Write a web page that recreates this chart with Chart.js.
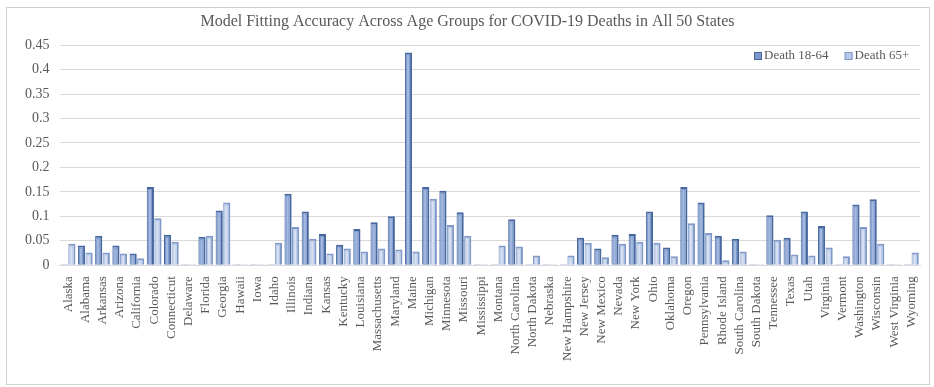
<!DOCTYPE html>
<html>
<head>
<meta charset="utf-8">
<script src="https://cdn.jsdelivr.net/npm/chart.js@4.4.0/dist/chart.umd.min.js"></script>
<style>
html, body { margin: 0; padding: 0; background: #fff; }
#wrap { position: relative; width: 934px; height: 387px; }
</style>
</head>
<body>
<div id="wrap"><canvas id="accuracyChart"></canvas></div>
<script>
const states = ["Alaska", "Alabama", "Arkansas", "Arizona", "California", "Colorado", "Connecticut", "Delaware", "Florida", "Georgia",
    "Hawaii", "Iowa", "Idaho", "Illinois", "Indiana", "Kansas", "Kentucky", "Louisiana", "Massachusetts", "Maryland",
    "Maine", "Michigan", "Minnesota", "Missouri", "Mississippi", "Montana", "North Carolina", "North Dakota", "Nebraska", "New Hampshire",
    "New Jersey", "New Mexico", "Nevada", "New York", "Ohio", "Oklahoma", "Oregon", "Pennsylvania", "Rhode Island", "South Carolina",
    "South Dakota", "Tennessee", "Texas", "Utah", "Virginia", "Vermont", "Washington", "Wisconsin", "West Virginia", "Wyoming"];

const death1864 = [0.002, 0.040, 0.060, 0.040, 0.024, 0.160, 0.062, 0.002, 0.058, 0.112,
    0.002, 0.002, 0.002, 0.146, 0.110, 0.064, 0.042, 0.074, 0.088, 0.100,
    0.435, 0.160, 0.152, 0.108, 0.002, 0.002, 0.094, 0.002, 0.002, 0.002,
    0.056, 0.034, 0.062, 0.064, 0.110, 0.036, 0.160, 0.128, 0.060, 0.054,
    0.002, 0.102, 0.056, 0.110, 0.080, 0.002, 0.124, 0.135, 0.002, 0.002];

const death65 = [0.044, 0.026, 0.026, 0.024, 0.014, 0.096, 0.048, 0.002, 0.060, 0.128,
    0.002, 0.002, 0.046, 0.078, 0.054, 0.024, 0.034, 0.028, 0.034, 0.032,
    0.028, 0.136, 0.082, 0.060, 0.002, 0.040, 0.038, 0.020, 0.002, 0.020,
    0.046, 0.016, 0.044, 0.048, 0.046, 0.018, 0.086, 0.066, 0.010, 0.028,
    0.002, 0.052, 0.022, 0.020, 0.036, 0.018, 0.078, 0.044, 0.002, 0.026];

const seriesNames = ["Death 18-64", "Death 65+"];

const textColor = "#595959";
const serif = "'Liberation Serif', 'Times New Roman', serif";
const fills = ["#7b97ca", "#b7c8e6"];
const edges = ["#46679f", "#8099c9"];
const shines = ["#a3b9df", "#d6e0f2"];

// white background + thin frame like the office chart box
const framePlugin = {
    id: "frame",
    beforeDraw(chart) {
        const c = chart.ctx;
        c.save();
        c.fillStyle = "#fff";
        c.fillRect(0, 0, chart.width, chart.height);
        c.strokeStyle = "#d0d0d0";
        c.lineWidth = 1;
        c.strokeRect(6.5, 7.5, 923, 377);
        c.restore();
    }
};

// fake the 3d column look: light stripe on the front face
const shinePlugin = {
    id: "shine",
    afterDatasetsDraw(chart) {
        const c = chart.ctx;
        c.save();
        chart.data.datasets.forEach((ds, i) => {
            chart.getDatasetMeta(i).data.forEach(bar => {
                const p = bar.getProps(["x", "y", "base", "width"], true);
                const h = p.base - p.y - 3;
                if (h <= 0) return;
                c.fillStyle = shines[i];
                c.fillRect(p.x - p.width / 2 + 2, p.y + 3, p.width * 0.3, h);
            });
        });
        c.restore();
    }
};

// legend drawn inside the plot, top right
const legendPlugin = {
    id: "insideLegend",
    afterDraw(chart) {
        const c = chart.ctx;
        c.save();
        c.font = "13px " + serif;
        c.textBaseline = "middle";
        let x = 754;
        const y = 56;
        seriesNames.forEach((name, i) => {
            c.fillStyle = fills[i];
            c.strokeStyle = edges[i];
            c.lineWidth = 1;
            c.fillRect(x, y - 4, 8, 8);
            c.strokeRect(x + 0.5, y - 3.5, 7, 7);
            c.fillStyle = textColor;
            c.fillText(name, x + 10, y);
            x += 10 + c.measureText(name).width + 16;
        });
        c.restore();
    }
};

const ctx = document.getElementById("accuracyChart").getContext("2d");
new Chart(ctx, {
    type: "bar",
    data: {
        labels: states,
        datasets: [{
            label: seriesNames[0],
            data: death1864,
            backgroundColor: fills[0],
            borderColor: edges[0],
            borderWidth: { left: 1, top: 2, right: 2, bottom: 0 },
            borderSkipped: false
        }, {
            label: seriesNames[1],
            data: death65,
            backgroundColor: fills[1],
            borderColor: edges[1],
            borderWidth: { left: 1, top: 2, right: 2, bottom: 0 },
            borderSkipped: false
        }]
    },
    plugins: [framePlugin, shinePlugin, legendPlugin],
    options: {
        responsive: true,
        maintainAspectRatio: false,
        animation: false,
        datasets: {
            bar: {
                categoryPercentage: 0.88,
                barPercentage: 0.95
            }
        },
        layout: {
            padding: { left: 15, right: 14, top: 10, bottom: 23 }
        },
        plugins: {
            title: {
                display: true,
                text: "Model Fitting Accuracy Across Age Groups for COVID-19 Deaths in All 50 States",
                color: textColor,
                font: { family: serif, size: 16, weight: "normal" },
                padding: { top: 2, bottom: 14 }
            },
            legend: { display: false },
            tooltip: { enabled: false }
        },
        scales: {
            x: {
                grid: { display: false },
                border: { display: true, color: "#d9d9d9" },
                ticks: {
                    color: textColor,
                    font: { family: serif, size: 13 },
                    maxRotation: 90,
                    minRotation: 90,
                    autoSkip: false,
                    padding: 3
                }
            },
            y: {
                min: 0,
                max: 0.45,
                grid: { color: "#d9d9d9", drawTicks: false },
                border: { display: false },
                ticks: {
                    stepSize: 0.05,
                    color: textColor,
                    font: { family: serif, size: 14 },
                    padding: 10,
                    callback: v => String(+v.toFixed(2))
                }
            }
        }
    }
});
</script>
</body>
</html>
